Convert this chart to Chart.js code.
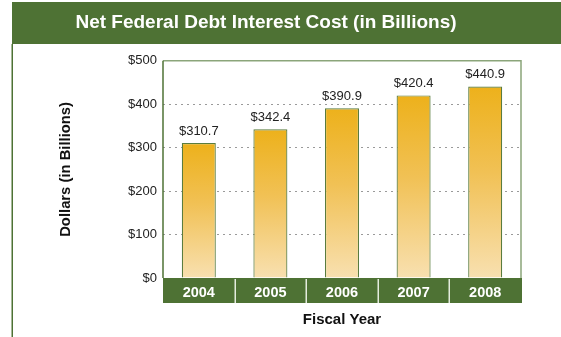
<!DOCTYPE html>
<html>
<head>
<meta charset="utf-8">
<script src="https://cdn.jsdelivr.net/npm/chart.js@4.4.1/dist/chart.umd.min.js"></script>
<style>
  html, body { margin: 0; padding: 0; background: #ffffff; }
  #wrap { width: 561px; height: 337px; }
</style>
</head>
<body>
<div id="wrap"><canvas id="chart" width="561" height="337"></canvas></div>
<script>
// Fiscal years and net interest cost on federal debt (billions of dollars)
const fiscalYears = ['2004', '2005', '2006', '2007', '2008'];
const interestCost = [310.7, 342.4, 390.9, 420.4, 440.9];
const yTickValues = [0, 100, 200, 300, 400, 500];

const GREEN = '#4e7234';
const GREEN_LIGHT = '#8ba57a';

// Banner, left rule and the green year band beneath the plot
const framePlugin = {
  id: 'frame',
  beforeDraw(chart) {
    const { ctx, chartArea: a } = chart;
    ctx.save();
    ctx.fillStyle = GREEN;
    ctx.fillRect(12, 2, chart.width - 12, 42);
    ctx.fillRect(11.5, 44, 1.5, chart.height - 44);

    // year band
    ctx.fillRect(a.left, a.bottom, a.right - a.left + 1, 25);
    const n = fiscalYears.length;
    const step = (a.right - a.left) / n;
    ctx.strokeStyle = 'rgba(236,242,232,0.95)';
    ctx.lineWidth = 1.5;
    for (let i = 1; i < n; i++) {
      const x = Math.round(a.left + step * i) + 0.25;
      ctx.beginPath();
      ctx.moveTo(x, a.bottom + 1);
      ctx.lineTo(x, a.bottom + 25);
      ctx.stroke();
    }
    ctx.restore();
  },
  beforeDatasetsDraw(chart) {
    const { ctx, chartArea: a } = chart;
    ctx.save();
    ctx.lineWidth = 1.5;
    ctx.strokeStyle = GREEN_LIGHT;
    ctx.beginPath();
    ctx.moveTo(a.left, a.top);
    ctx.lineTo(a.right, a.top);
    ctx.lineTo(a.right, a.bottom);
    ctx.stroke();
    ctx.strokeStyle = GREEN;
    ctx.beginPath();
    ctx.moveTo(a.left, a.bottom);
    ctx.lineTo(a.left, a.top);
    ctx.stroke();
    ctx.restore();
  },
  afterDatasetsDraw(chart) {
    const { ctx } = chart;
    const meta = chart.getDatasetMeta(0);
    ctx.save();
    ctx.fillStyle = '#222222';
    ctx.font = '13px "Liberation Sans", Arial, sans-serif';
    ctx.textAlign = 'center';
    ctx.textBaseline = 'alphabetic';
    meta.data.forEach((bar, i) => {
      ctx.fillText('$' + interestCost[i].toFixed(1), bar.x, bar.y - 8);
    });
    ctx.restore();
  }
};

function barGradient(context) {
  const chart = context.chart;
  const a = chart.chartArea;
  if (!a || context.type !== 'data') return '#f0b428';
  const top = chart.scales.y.getPixelForValue(context.raw);
  const g = chart.ctx.createLinearGradient(0, top, 0, a.bottom);
  g.addColorStop(0, '#edb11b');
  g.addColorStop(0.45, '#f1c155');
  g.addColorStop(1, '#f8e0b0');
  return g;
}

new Chart(document.getElementById('chart'), {
  type: 'bar',
  data: {
    labels: fiscalYears,
    datasets: [{
      data: interestCost,
      backgroundColor: barGradient,
      borderColor: '#5a7c3e',
      borderWidth: 1.2,
      categoryPercentage: 1,
      barPercentage: 0.475
    }]
  },
  plugins: [framePlugin],
  options: {
    responsive: false,
    animation: false,
    devicePixelRatio: 1,
    layout: { padding: { left: 11, right: 40, top: 0, bottom: 0 } },
    plugins: {
      legend: { display: false },
      tooltip: { enabled: false },
      title: {
        display: true,
        text: 'Net Federal Debt Interest Cost (in Billions)',
        color: '#ffffff',
        font: { family: '"Liberation Sans", Arial, sans-serif', size: 19, weight: 'bold', lineHeight: 1.2 },
        padding: { top: 11, bottom: 27 }
      }
    },
    scales: {
      x: {
        grid: { display: false, drawTicks: false },
        border: { display: false },
        ticks: {
          color: '#ffffff',
          padding: 6,
          font: { family: '"Liberation Sans", Arial, sans-serif', size: 14.5, weight: 'bold' }
        },
        title: {
          display: true,
          text: 'Fiscal Year',
          color: '#111111',
          font: { family: '"Liberation Sans", Arial, sans-serif', size: 15, weight: 'bold' },
          padding: { top: 0, bottom: 8 }
        },
        afterFit(scale) { scale.height = 59; }
      },
      y: {
        min: 0,
        max: 500,
        afterBuildTicks(scale) { scale.ticks = yTickValues.map(v => ({ value: v })); },
        grid: {
          drawTicks: false,
          color(ctx) {
            const v = ctx.tick && ctx.tick.value;
            return (v === 0 || v === 500) ? 'rgba(0,0,0,0)' : '#9a9a9a';
          },
          lineWidth: 1
        },
        border: { display: false, dash: [2, 4] },
        ticks: {
          color: '#222222',
          padding: 6,
          font: { family: '"Liberation Sans", Arial, sans-serif', size: 13 },
          callback: v => '$' + v
        },
        title: {
          display: true,
          text: 'Dollars (in Billions)',
          color: '#111111',
          font: { family: '"Liberation Sans", Arial, sans-serif', size: 14.8, weight: 'bold' },
          padding: { top: 46, bottom: 0 }
        },
        afterFit(scale) { scale.width = 152; }
      }
    }
  }
});
</script>
</body>
</html>
